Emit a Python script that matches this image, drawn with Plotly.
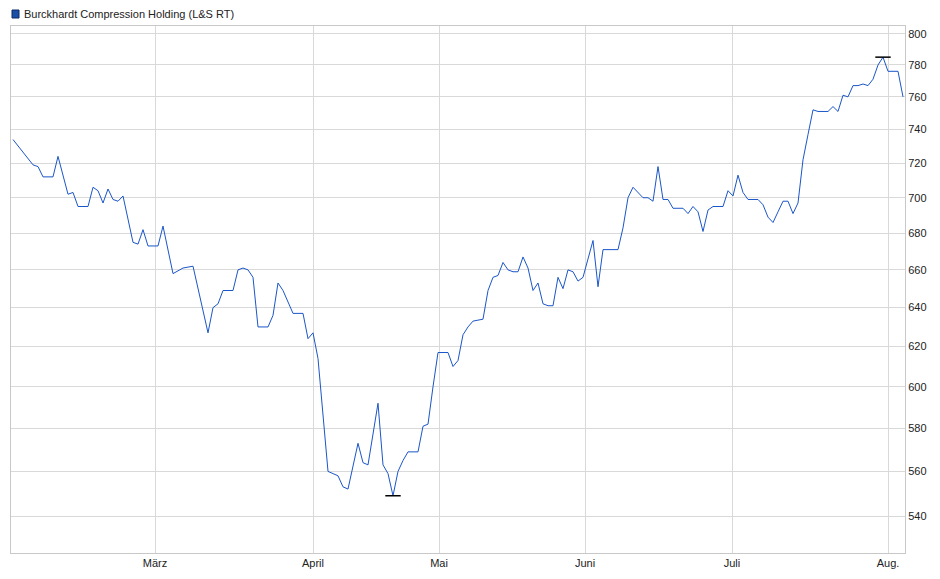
import plotly.graph_objects as go

day_index = [0,4,5,6,8,9,11,12,13,15,16,17,18,19,20,21,22,24,25,26,27,29,30,32,34,36,39,40,41,42,44,45,46,47,48,49,51,52,53,54,56,58,59,60,61,63,65,66,67,69,70,71,73,74,75,76,77,78,79,81,82,83,84,85,87,88,89,90,91,92,94,95,96,97,98,99,100,101,102,103,104,105,106,107,108,109,110,111,112,113,114,116,117,118,121,122,123,124,126,127,128,129,130,131,132,134,135,136,137,138,139,140,142,143,144,145,146,147,149,150,151,152,153,154,155,156,157,158,159,160,161,163,164,165,166,167,168,169,170,171,172,173,174,175,177,178]
price = [734,719,718,712,712,724,702,703,695,695,706,704,697,705,699,698,701,675,674,682,673,673,684,658,661,662,627,640,642,649,649,660,661,660,656,630,630,636,653,649,637,637,624,627,614,560,558,553,552,573,564,563,592,563,559,549,560,565,569,569,581,582,600,617,617,610,613,626,630,633,634,649,656,657,664,660,659,659,667,661,649,653,642,641,641,656,650,660,659,654,656,676,651,671,671,683,700,706,700,700,698,718,699,699,694,694,691,695,692,681,693,695,695,704,701,713,703,699,699,696,689,686,692,698,698,691,697,722,737,752,751,751,754,751,761,760,767,767,768,767,771,780,785,776,776,760]
month_pos = [28.4, 60, 85.2, 114.4, 143.8, 175]
month_labels = ["März", "April", "Mai", "Juni", "Juli", "Aug."]
y_ticks = [540,560,580,600,620,640,660,680,700,720,740,760,780,800]
title = "Burckhardt Compression Holding (L&S RT)"

lo = min(price); hi = max(price)
i_lo = day_index[price.index(lo)]; i_hi = day_index[price.index(hi)]

fig = go.Figure()
fig.add_trace(go.Scatter(x=day_index, y=price, mode="lines",
                         line=dict(color="#1a56c8", width=1), hoverinfo="skip"))
fig.add_trace(go.Scatter(x=[i_lo, i_hi], y=[lo, hi], mode="markers",
                         marker=dict(symbol="line-ew", size=11, line=dict(color="black", width=1.5)),
                         hoverinfo="skip"))
fig.add_annotation(x=i_lo, y=lo, text=f"{lo:.2f}".replace(".", ","), showarrow=False,
                   yshift=-11, font=dict(color="#a0a0a0", size=11))
fig.add_annotation(x=i_hi, y=hi, text=f"{hi:.2f}".replace(".", ","), showarrow=False,
                   yshift=10, font=dict(color="#a0a0a0", size=11))
# legend marker + title
fig.add_shape(type="rect", xref="paper", yref="paper",
              x0=(4-3)/894, x1=(11-3)/894, y0=(545-10)/527, y1=(545-2)/527,
              fillcolor="#1a4fa8", line=dict(color="#0d2a66", width=1))
fig.add_annotation(xref="paper", yref="paper", x=(14-3)/894, y=(545-6)/527,
                   text=title, showarrow=False, xanchor="left", yanchor="middle",
                   font=dict(size=11, color="#222"))

fig.update_layout(
    width=940, height=579, margin=dict(l=3, r=43, t=18, b=34),
    paper_bgcolor="white", plot_bgcolor="white", showlegend=False,
    font=dict(family="Liberation Sans, Arial, sans-serif", size=11, color="#222"),
)
fig.update_xaxes(range=[-0.4, 178.4], tickvals=month_pos, ticktext=month_labels,
                 showgrid=True, gridcolor="#d9d9d9", gridwidth=1, zeroline=False,
                 showline=True, linecolor="#c8c8c8", mirror=True, ticks="", ticklen=0)
fig.update_yaxes(type="log", range=[2.7193, 2.9059], tickvals=y_ticks,
                 ticktext=[str(v) for v in y_ticks], side="right",
                 showgrid=True, gridcolor="#d9d9d9", gridwidth=1, zeroline=False,
                 showline=True, linecolor="#c8c8c8", mirror=True, ticks="")
fig.write_html("out.html")
